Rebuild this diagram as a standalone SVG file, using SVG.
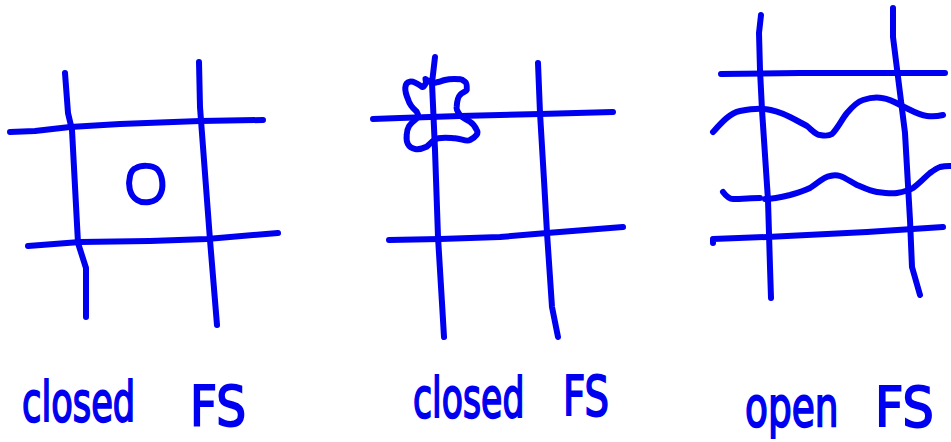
<svg xmlns="http://www.w3.org/2000/svg" width="951" height="442" viewBox="0 0 951 442">
<style>
.ink{fill:none;stroke:#0000f0;stroke-width:6;stroke-linecap:round;stroke-linejoin:round}
.lbl{font-family:"DejaVu Sans","Liberation Sans",sans-serif;font-size:56px;fill:#0000f0;stroke:#0000f0;stroke-width:2}
</style>
<rect width="951" height="442" fill="#fff"/>
<g id="panel-closed-1">
<path class="ink" d="M65,73 L68,113 L72,130 L78,243 L86,268 L86,317"/>
<path class="ink" d="M199,62 L200,107 L210,240 L217,325"/>
<path class="ink" d="M10,132 L35,131 L70,127 L120,124 L200,121 L263,120"/>
<path class="ink" d="M28,246 L80,242 L150,241 L207,239 L278,233"/>
<path class="ink" d="M136,168 C141,165 152,165 157,169 C163,175 164,188 160,195 C156,203 143,204 137,200 C129,195 128,184 130,176 C131,172 133,169 136,168 Z"/>
</g>
<g id="panel-closed-2">
<path class="ink" d="M435,57 L432,83 L435,150 L438,237 L442,303 L444,337"/>
<path class="ink" d="M538,63 L540,113 L544,180 L547,233 L552,307 L558,337"/>
<path class="ink" d="M373,119 L400,118 L460,116 L540,114 L613,112"/>
<path class="ink" d="M389,240 L440,239 L500,237 L547,233 L623,227"/>
<path class="ink" d="M426.7,81.7 C425,85 423,88 421.7,86.7 C418,84 413,81 410,81.7 C404,83 404,90 408.3,100 C410,106 414,109 416.7,111.7 C419,115 418,118 415,120 C410,124 407,127 406.7,135 C406,142 408,148 415,149 C420,150 424,148 426.7,146.7 C431,143 434,139 438.3,138.3 C445,137 450,138 455,138.3 C462,139 467,142 470,140 C476,137 479,133 476.7,130 C475,126 472,123 470,121.7 C466,119 462,118 460,115 C457,111 456,109 456.7,106.7 C457,101 458,97 460,95 C462,92 466,92 466.7,90 C467,86 467,83 465,81.7 C463,80 461,79 460,79.3 C455,79 449,79 445,80 C441,81 439,82 436.7,82.3 C434,83 432,84 431.7,83.3 C429,81 428,79 426.7,81.7 Z"/>
<path class="ink" d="M426,82 L425.5,79"/>
</g>
<g id="panel-open">
<path class="ink" d="M761,15 L759,33 L760,70 L762,110 L768,200 L770,267 L771,298"/>
<path class="ink" d="M893,8 L893,37 L898,77 L905,133 L910,220 L912,267 L920,295"/>
<path class="ink" d="M721,74 L800,73 L945,73"/>
<path class="ink" d="M713,132 C722,122 730,113 740,111 C750,109 758,108 765,109 C775,110 784,114 790,117 C798,121 803,124 807,126 C812,130 816,135 820,135 C825,136 829,136 832,134 C838,128 842,119 847,113 C852,107 857,102 863,100 C869,98 876,97 882,98 C889,99 895,102 900,105 C909,109 918,115 927,116 C934,117 939,116 943,115"/>
<path class="ink" d="M723,192 C726,196 729,199 733,199 C742,199 752,198 760,198"/>
<path class="ink" d="M765,199 C773,199 782,197 790,195 C797,193 804,191 810,188 C817,184 823,177 830,176 C834,175 837,175 840,176 C846,178 851,182 857,185 C864,188 870,191 877,192 C884,193 891,194 897,193 C903,192 908,191 913,188 C920,183 925,177 930,173 C934,170 937,168 940,167 C944,166 947,166 950,166"/>
<path class="ink" d="M713,243 L713,239 L767,237 L867,232 L943,227"/>
</g>
<g id="labels">
<text class="lbl" transform="translate(22,421) scale(0.63,1)">closed</text>
<text class="lbl" transform="translate(190,425) scale(0.84,1)">FS</text>
<text class="lbl" transform="translate(413,417) scale(0.62,1)">closed</text>
<text class="lbl" transform="translate(563,415) scale(0.69,1)">FS</text>
<text class="lbl" transform="translate(745,426) scale(0.67,1)">open</text>
<text class="lbl" transform="translate(875,426) scale(0.88,1)">FS</text>
</g>
</svg>
